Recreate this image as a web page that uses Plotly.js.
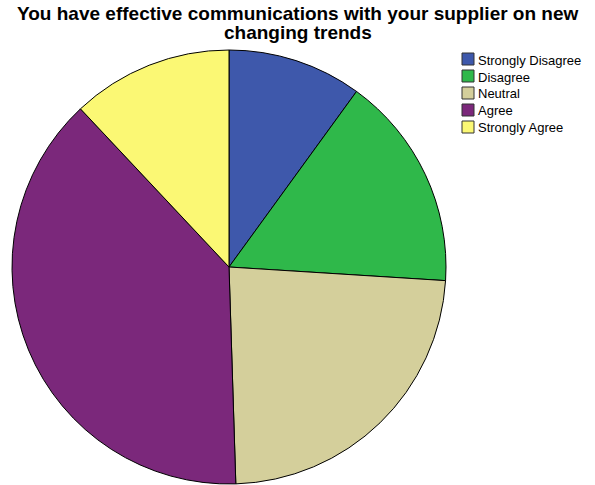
<!DOCTYPE html>
<html><head><meta charset="utf-8">
<script src="https://cdn.plot.ly/plotly-3.0.1.min.js"></script>
<style>html,body{margin:0;padding:0;background:#fff}#chart{width:595px;height:485px}</style>
</head><body><div id="chart"></div>
<script>
const titleLines = ["You have effective communications with your supplier on new", "changing trends"];
const categories = ["Strongly Disagree", "Disagree", "Neutral", "Agree", "Strongly Agree"];
const values = [10, 16, 23.5, 38.5, 12];
const colors = ["#3e58ab", "#2fb84a", "#d4cf9b", "#7b287b", "#fbf874"];

const W = 595, H = 485;
const px = x => x / W;
const py = y => 1 - y / H;

const trace = {
  type: "pie",
  labels: categories,
  values: values,
  sort: false,
  direction: "clockwise",
  rotation: 0,
  textinfo: "none",
  hoverinfo: "label+percent",
  showlegend: false,
  marker: {colors: colors, line: {color: "#000", width: 1}},
  domain: {x: [px(12), px(446)], y: [py(484), py(50)]}
};

const FONT = "Liberation Sans, Arial, sans-serif";
const annotations = [];
const shapes = [];

// Title (two lines)
titleLines.forEach((t, i) => {
  annotations.push({
    xref: "paper", yref: "paper", x: 0.5, xanchor: "center",
    y: py(13 + i * 20), yanchor: "middle",
    text: "<b>" + t + "</b>", showarrow: false,
    font: {family: FONT, size: 19, color: "#000"}
  });
});

// Legend built from categories/colors
categories.forEach((c, i) => {
  const cy = 59 + i * 17;
  shapes.push({
    type: "rect", xref: "paper", yref: "paper",
    x0: px(462), x1: px(474), y0: py(cy - 6), y1: py(cy + 6),
    fillcolor: colors[i], line: {color: "#333", width: 1}
  });
  annotations.push({
    xref: "paper", yref: "paper", x: px(476), xanchor: "left",
    y: py(cy + 1), yanchor: "middle", text: c, showarrow: false,
    font: {family: FONT, size: 13, color: "#000"}
  });
});

const layout = {
  width: W, height: H,
  margin: {l: 0, r: 0, t: 0, b: 0},
  paper_bgcolor: "#fff",
  font: {family: FONT, color: "#000"},
  showlegend: false,
  annotations: annotations,
  shapes: shapes
};

Plotly.newPlot("chart", [trace], layout, {displayModeBar: false, staticPlot: true});
</script></body></html>
